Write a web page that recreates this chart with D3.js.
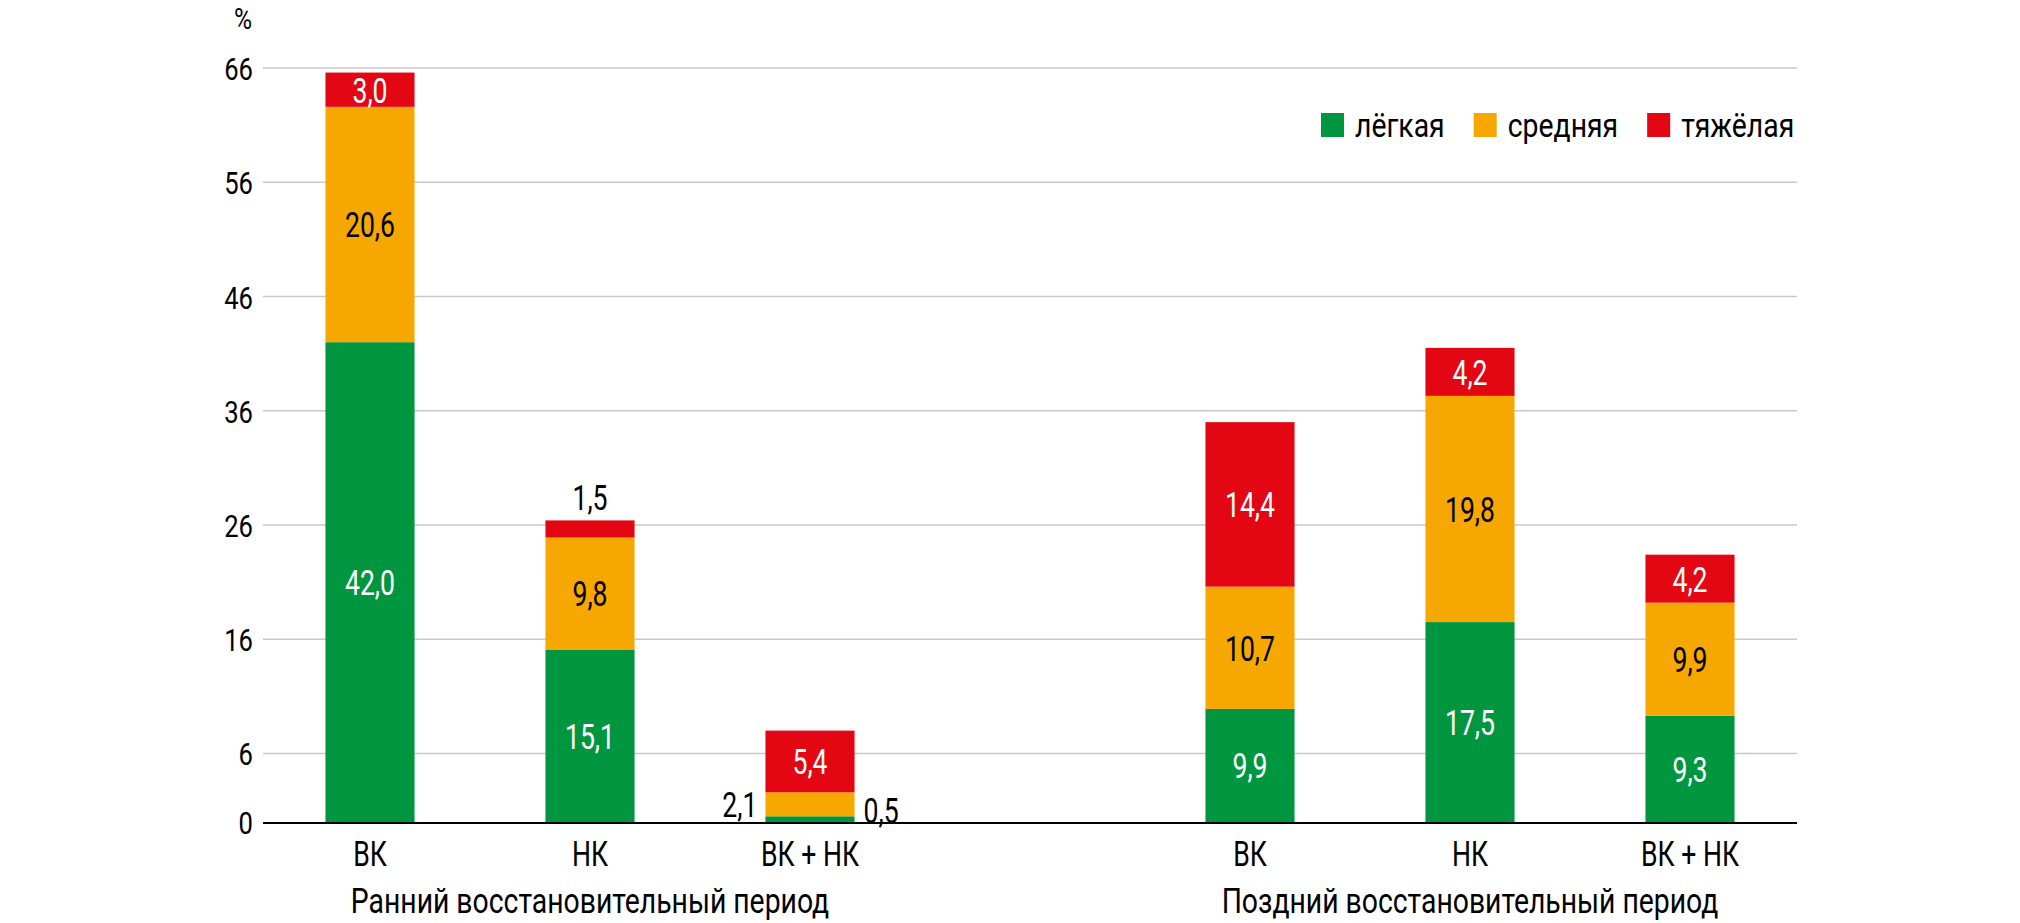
<!DOCTYPE html>
<html>
  <head>
    <meta charset="utf-8" />
    <script src="https://cdn.jsdelivr.net/npm/d3@7"></script>
    <style>
      * {
        margin: 0;
        padding: 0;
        box-sizing: border-box;
      }
      body {
        background: white;
      }
      svg text {
        font-family: "Roboto", "Noto Sans", sans-serif;
      }
      .grid line {
        stroke: #c8c8c8;
        stroke-width: 1.5px;
      }
    </style>
  </head>
  <body>
    <svg id="chart" width="2020" height="923"></svg>
    <script>
      const groups = ["Ранний восстановительный период", "Поздний восстановительный период"];
      const categories = ["ВК", "НК", "ВК + НК"];
      const severities = ["лёгкая", "средняя", "тяжёлая"];
      // values per bar, in order: early ВК, НК, ВК+НК, late ВК, НК, ВК+НК
      const light = [42.0, 15.1, 0.5, 9.9, 17.5, 9.3];
      const medium = [20.6, 9.8, 2.1, 10.7, 19.8, 9.9];
      const heavy = [3.0, 1.5, 5.4, 14.4, 4.2, 4.2];
      const yTicks = [0, 6, 16, 26, 36, 46, 56, 66];

      const colors = ["rgb(0,150,64)", "rgb(246,168,0)", "rgb(227,6,19)"];
      const labelColors = ["white", "black", "white"];

      const left = 263;
      const right = 1797;
      const narrow = 0.74; // the original uses a condensed face
      const fmt = (v) => d3.format(".1f")(v).replace(".", ",");
      const place = (px, py, sx) => "translate(" + px + "," + py + ") scale(" + sx + ",1)";

      const svg = d3.select("#chart");

      // one empty slot between the two groups
      const slots = [];
      groups.forEach((g, gi) => {
        categories.forEach((c) => slots.push(gi + "|" + c));
        if (gi < groups.length - 1) slots.push("gap" + gi);
      });
      const bars = [];
      groups.forEach((g, gi) =>
        categories.forEach((c, ci) => {
          const i = gi * categories.length + ci;
          bars.push({ key: gi + "|" + c, cat: c, group: gi, vals: [light[i], medium[i], heavy[i]] });
        })
      );

      const x = d3.scaleBand().domain(slots).range([260, 1800]).paddingInner(0.595).paddingOuter(0.2975);
      const y = d3.scaleLinear().domain([0, 66]).range([822, 68]);

      // grid
      svg
        .append("g")
        .attr("class", "grid")
        .selectAll("line")
        .data(yTicks.filter((t) => t > 0))
        .enter()
        .append("line")
        .attr("x1", left)
        .attr("x2", right)
        .attr("y1", (d) => y(d))
        .attr("y2", (d) => y(d));

      const yAxis = d3.axisLeft(y).tickValues(yTicks).tickSize(0).tickPadding(10);
      const yg = svg.append("g").attr("transform", "translate(" + left + ",0)").call(yAxis);
      yg.select(".domain").remove();
      yg.selectAll("text")
        .attr("font-size", 32)
        .attr("font-family", "Roboto")
        .attr("fill", "black")
        .attr("dy", "0.36em")
        .attr("x", -10 / 0.8)
        .attr("transform", "scale(0.8,1)");

      svg
        .append("text")
        .attr("transform", place(243, 29, 0.85))
        .attr("text-anchor", "middle")
        .attr("font-size", 29)
        .text("%");

      // stacked bars
      const segs = bars
        .map((b) => {
          let acc = 0;
          return b.vals.map((v, si) => {
            const seg = { bar: b, si, v, y0: acc, y1: acc + v };
            acc += v;
            return seg;
          });
        })
        .flat();

      svg
        .append("g")
        .selectAll("rect")
        .data(segs)
        .enter()
        .append("rect")
        .attr("x", (d) => x(d.bar.key))
        .attr("width", x.bandwidth())
        .attr("y", (d) => y(d.y1))
        .attr("height", (d) => y(d.y0) - y(d.y1))
        .attr("fill", (d) => colors[d.si]);

      // baseline
      svg
        .append("line")
        .attr("x1", left)
        .attr("x2", right)
        .attr("y1", y(0) + 1)
        .attr("y2", y(0) + 1)
        .attr("stroke", "black")
        .attr("stroke-width", 2);

      // value labels
      svg
        .append("g")
        .selectAll("text")
        .data(segs)
        .enter()
        .append("text")
        .attr("font-size", 36)
        .attr("dy", "0.36em")
        .attr("fill", "black")
        .each(function (d) {
          const el = d3.select(this);
          const px = y(d.y0) - y(d.y1);
          const bx = x(d.bar.key);
          const mid = bx + x.bandwidth() / 2;
          const cy = (y(d.y0) + y(d.y1)) / 2;
          if (px >= 30) {
            el.attr("transform", place(mid, cy, narrow)).attr("text-anchor", "middle").attr("fill", labelColors[d.si]);
          } else if (d.si === 2) {
            el.attr("transform", place(mid, y(d.y1) - 23, narrow)).attr("text-anchor", "middle");
          } else if (d.si === 0) {
            el.attr("transform", place(bx + x.bandwidth() + 9, Math.min(cy, y(0) - 12), narrow)).attr("text-anchor", "start");
          } else {
            el.attr("transform", place(bx - 8, cy, narrow)).attr("text-anchor", "end");
          }
          el.text(fmt(d.v));
        });

      // category labels
      svg
        .append("g")
        .selectAll("text")
        .data(bars)
        .enter()
        .append("text")
        .attr("transform", (d) => place(x(d.key) + x.bandwidth() / 2, 853, narrow))
        .attr("dy", "0.36em")
        .attr("text-anchor", "middle")
        .attr("font-size", 36)
        .text((d) => d.cat);

      // group labels
      svg
        .append("g")
        .selectAll("text")
        .data(groups)
        .enter()
        .append("text")
        .attr("transform", (d, gi) => {
          const first = x(gi + "|" + categories[0]);
          const last = x(gi + "|" + categories[categories.length - 1]) + x.bandwidth();
          return place((first + last) / 2, 900, 0.81);
        })
        .attr("dy", "0.36em")
        .attr("text-anchor", "middle")
        .attr("font-size", 35)
        .text((d) => d);

      // legend
      const legendScale = 0.86;
      const legend = svg.append("g").attr("transform", "translate(1321,113)");
      let lx = 0;
      severities.forEach((s, i) => {
        const item = legend.append("g").attr("transform", "translate(" + lx + ",0)");
        item.append("rect").attr("width", 23).attr("height", 24).attr("fill", colors[i]);
        const t = item
          .append("text")
          .attr("transform", place(34, 12, legendScale))
          .attr("dy", "0.36em")
          .attr("font-size", 33)
          .text(s);
        lx += 34 + t.node().getComputedTextLength() * legendScale + 29;
      });
    </script>
  </body>
</html>
